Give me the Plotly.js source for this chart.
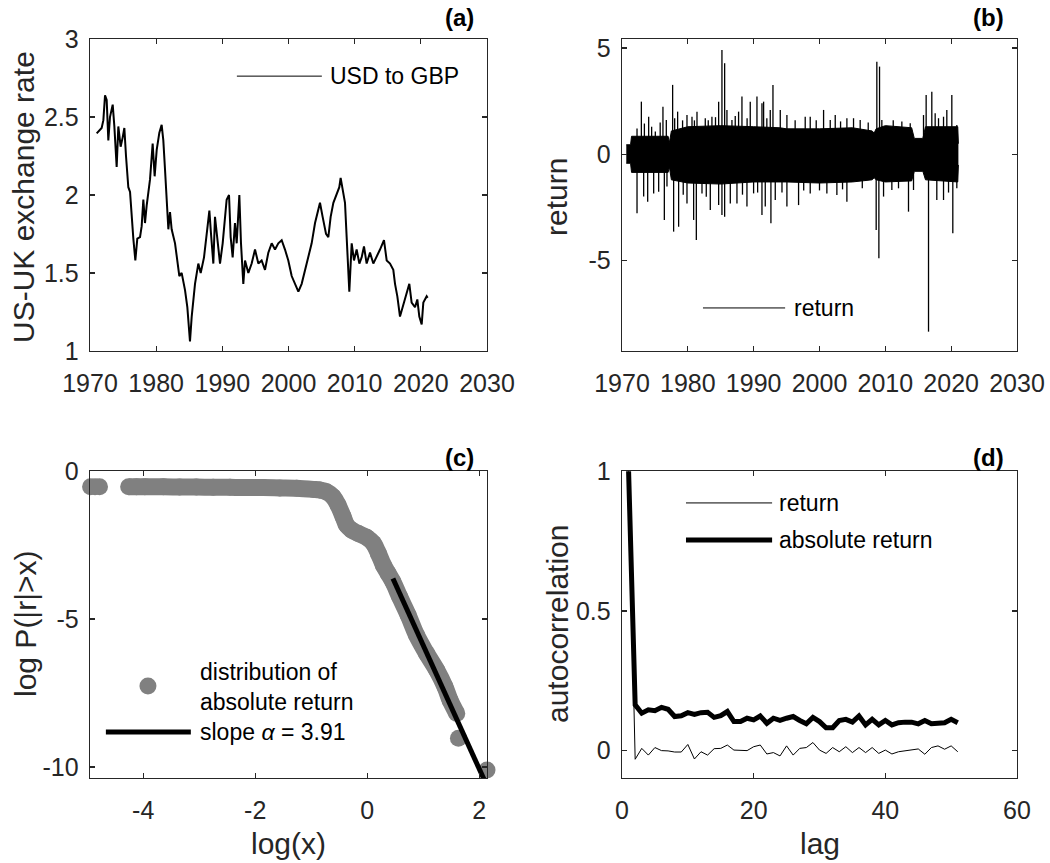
<!DOCTYPE html>
<html><head><meta charset="utf-8">
<script src="https://cdn.plot.ly/plotly-3.0.1.min.js"></script>
<style>html,body{margin:0;padding:0;background:#fff}#chart{width:1050px;height:863px}</style>
</head><body><div id="chart"></div>
<script>
// ---------- (a) USD to GBP exchange rate ----------
const rateYears = [1971.01,1971.51,1971.76,1972.02,1972.27,1972.52,1972.77,1973.02,1973.43,1973.68,1974.03,1974.28,1974.63,1974.94,1975.19,1975.44,1975.79,1976.05,1976.30,1976.55,1976.85,1977.15,1977.56,1977.81,1978.06,1978.31,1978.56,1979.07,1979.47,1979.77,1980.08,1980.48,1980.83,1981.08,1981.34,1981.59,1981.84,1982.09,1982.34,1982.85,1983.20,1983.50,1983.85,1984.36,1984.71,1985.11,1985.37,1985.87,1986.37,1986.73,1987.23,1987.63,1988.04,1988.29,1988.64,1988.89,1989.24,1989.65,1990.05,1990.40,1990.65,1991.01,1991.26,1991.56,1991.91,1992.17,1992.57,1992.82,1993.17,1993.43,1993.93,1994.43,1994.94,1995.44,1995.94,1996.45,1996.95,1997.46,1997.96,1998.46,1998.97,1999.47,1999.97,2000.48,2000.98,2001.49,2001.99,2002.49,2003.00,2003.50,2004.01,2004.36,2004.76,2005.16,2005.67,2006.02,2006.37,2006.78,2007.28,2007.68,2007.88,2008.29,2008.54,2008.79,2008.99,2009.19,2009.55,2009.90,2010.30,2010.71,2011.06,2011.41,2011.81,2012.32,2012.82,2013.32,2013.83,2014.43,2014.84,2015.34,2015.84,2016.10,2016.45,2016.85,2017.25,2017.76,2018.26,2018.61,2019.12,2019.47,2019.77,2020.13,2020.38,2020.88,2021.03];
const rateValues = [2.395,2.42,2.43,2.48,2.64,2.61,2.35,2.50,2.58,2.44,2.18,2.44,2.31,2.37,2.43,2.25,2.05,2.02,1.86,1.72,1.58,1.72,1.73,1.80,1.97,1.82,1.93,2.10,2.33,2.12,2.29,2.40,2.45,2.35,2.16,1.95,1.78,1.89,1.78,1.69,1.58,1.48,1.50,1.39,1.28,1.06,1.22,1.43,1.56,1.50,1.60,1.73,1.90,1.75,1.56,1.86,1.73,1.56,1.69,1.84,1.97,2.00,1.73,1.60,1.82,1.69,2.00,1.69,1.43,1.58,1.50,1.56,1.65,1.56,1.58,1.52,1.63,1.69,1.65,1.69,1.71,1.65,1.58,1.48,1.43,1.38,1.43,1.52,1.60,1.69,1.82,1.88,1.95,1.86,1.75,1.73,1.86,1.95,2.01,2.05,2.11,1.99,1.95,1.73,1.52,1.38,1.69,1.58,1.65,1.56,1.60,1.67,1.56,1.63,1.56,1.60,1.65,1.71,1.58,1.56,1.52,1.43,1.35,1.22,1.28,1.35,1.43,1.31,1.28,1.33,1.22,1.17,1.31,1.35,1.34];

// ---------- (b) daily return: dense band envelope + spikes ----------
const bandYears = [1970.65,1971.30,1971.45,1977.0,1977.2,1977.5,1980,1985,1990,1994,1995,2000,2005,2008.0,2008.3,2008.6,2010,2014.0,2014.4,2015.7,2016.1,2021.0,2021.1];
const bandUpper = [0.45,0.45,0.85,0.85,0.55,1.1,1.3,1.35,1.3,1.25,1.2,1.2,1.25,1.1,1.0,1.2,1.35,1.25,0.75,0.75,1.3,1.3,0.5];
const bandLower = [-0.42,-0.42,-0.85,-0.85,-0.6,-1.2,-1.35,-1.4,-1.3,-1.3,-1.3,-1.35,-1.3,-1.2,-1.1,-1.2,-1.3,-1.25,-0.8,-0.8,-1.2,-1.3,-0.5];
const spikeUpYears = [1972.28,1972.94,1973.4,1974.05,1974.5,1975.06,1975.8,1976.22,1976.73,1977.69,1978.0,1978.45,1979.2,1979.87,1980.63,1981.0,1981.39,1982.65,1983.1,1983.66,1984.2,1984.68,1985.18,1985.59,1985.94,1986.70,1987.2,1987.71,1988.22,1989.0,1989.48,1990.50,1991.26,1991.51,1992.0,1992.52,1992.93,1994.04,1995.05,1996.3,1997.83,1998.59,1999.5,2000.62,2001.63,2002.39,2003.2,2004.16,2005.17,2006.18,2007.4,2008.71,2009.12,2009.47,2011.2,2012.51,2013.78,2015.80,2016.20,2017.06,2017.57,2018.08,2018.84,2019.34,2020.10,2020.86];
const spikeUpValues = [1.22,2.48,1.45,1.77,1.3,1.07,1.5,2.24,1.62,3.27,1.7,2.01,1.6,1.85,1.77,1.6,2.01,1.70,1.6,1.77,1.75,2.48,4.91,4.29,2.09,1.62,1.8,2.01,2.72,1.7,2.48,2.72,2.40,2.48,1.7,2.09,3.27,2.09,1.85,1.6,1.77,1.77,1.6,2.09,1.62,1.85,1.55,1.70,1.70,1.62,1.5,4.36,4.13,1.62,1.6,1.54,1.46,1.85,2.79,2.95,1.93,1.70,1.77,2.09,2.79,1.38];
const spikeDownYears = [1972.28,1973.29,1973.90,1974.81,1975.57,1976.43,1976.83,1977.84,1978.60,1979.3,1979.87,1980.88,1981.29,1982.15,1982.8,1983.41,1984.68,1985.18,1985.59,1986.45,1987.46,1988.3,1988.98,1989.99,1990.6,1991.26,1991.76,1992.62,1993.28,1994.3,1995.05,1996.82,1997.6,1998.59,2000.0,2001.12,2002.64,2003.5,2004.16,2006.5,2008.61,2009.02,2009.73,2010.99,2012.0,2013.52,2014.28,2016.56,2017.82,2018.84,2019.6,2020.25,2020.86];
const spikeDownValues = [-2.78,-1.99,-2.23,-1.84,-1.76,-3.09,-1.52,-3.64,-3.41,-1.9,-2.31,-3.09,-4.03,-1.84,-2.0,-2.62,-2.39,-2.86,-2.94,-2.31,-2.31,-1.9,-2.46,-1.84,-1.8,-2.86,-2.46,-3.25,-2.15,-1.8,-2.46,-2.39,-1.7,-1.84,-1.7,-1.84,-1.92,-1.65,-2.23,-1.6,-3.56,-4.89,-1.99,-1.68,-1.6,-2.70,-1.68,-8.35,-2.15,-2.15,-1.8,-3.72,-1.60];

// ---------- (c) tail distribution ----------
const tailLogX = [-4.26,-4.12,-3.97,-3.64,-3.35,-3.05,-2.75,-2.45,-2.15,-1.86,-1.56,-1.26,-0.96,-0.85,-0.73,-0.61,-0.52,-0.43,-0.37,-0.28,-0.16,-0.01,0.11,0.20,0.29,0.375,0.46,0.58,0.73,0.88,1.06,1.24,1.39,1.48,1.60];
const tailLogP = [-0.53,-0.53,-0.53,-0.53,-0.54,-0.54,-0.55,-0.55,-0.56,-0.56,-0.57,-0.58,-0.62,-0.64,-0.70,-0.87,-1.15,-1.54,-1.82,-1.99,-2.11,-2.24,-2.44,-2.78,-3.18,-3.46,-3.74,-4.25,-4.86,-5.54,-6.16,-6.72,-7.29,-7.74,-8.19];
const isolatedLogX = [-4.94,-4.86,-4.78,1.63,2.14];
const isolatedLogP = [-0.53,-0.53,-0.53,-9.03,-10.1];
const fitLogX = [0.46,2.14];
const fitLogP = [-3.63,-10.64];

// ---------- (d) autocorrelation ----------
const lags = [1,2,3,4,5,6,7,8,9,10,11,12,13,14,15,16,17,18,19,20,21,22,23,24,25,26,27,28,29,30,31,32,33,34,35,36,37,38,39,40,41,42,43,44,45,46,47,48,49,50,51];
const acfReturn = [1,-0.031,0.008,-0.016,0.011,0.000,-0.001,-0.005,-0.005,0.022,-0.030,-0.004,-0.016,0.007,0.008,0.020,0.002,0.000,0.000,0.014,0.020,-0.012,-0.007,-0.019,0.017,-0.016,0.008,0.011,0.029,0.002,-0.010,0.011,-0.004,0.014,-0.007,0.011,-0.007,0.011,-0.010,0.002,-0.012,-0.004,-0.001,0.002,0.006,-0.013,0.011,0.017,0.005,0.017,-0.004];
const acfAbsReturn = [1,0.164,0.134,0.146,0.143,0.155,0.148,0.122,0.125,0.136,0.130,0.136,0.137,0.119,0.125,0.140,0.104,0.104,0.116,0.110,0.124,0.098,0.116,0.108,0.116,0.122,0.108,0.096,0.119,0.104,0.082,0.082,0.108,0.112,0.102,0.124,0.092,0.112,0.092,0.108,0.092,0.100,0.102,0.102,0.096,0.108,0.096,0.096,0.100,0.112,0.100];

// ---------- tick labels ----------
const yearTicks = [1970,1980,1990,2000,2010,2020,2030];
const rateTicks = [1,1.5,2,2.5,3];
const returnTicks = [-5,0,5];
const returnTickText = ['-5','0','5'];
const logXTicks = [-4,-2,0,2];
const logXTickText = ['-4','-2','0','2'];
const logPTicks = [-10,-5,0];
const logPTickText = ['-10','-5','0'];
const lagTicks = [0,20,40,60];
const acTicks = [0,0.5,1];
const acTickText = ['0','0.5','1'];

// ---------- build ----------
const FONT = 'Liberation Sans, Arial, Helvetica, sans-serif';
const INK = '#262626';
const GREY = '#808080';

function spikes(xs, vs){
  const x = [], y = [];
  xs.forEach((t,i)=>{ x.push(t,t,null); y.push(0,vs[i],null); });
  return {x, y};
}
const up = spikes(spikeUpYears, spikeUpValues);
const dn = spikes(spikeDownYears, spikeDownValues);

const traces = [
  {x: rateYears, y: rateValues, type:'scatter', mode:'lines', line:{color:'#000', width:2}, xaxis:'x', yaxis:'y', hoverinfo:'skip'},
  {x: bandYears, y: bandLower, type:'scatter', mode:'lines', line:{color:'#000', width:1}, xaxis:'x2', yaxis:'y2', hoverinfo:'skip'},
  {x: bandYears, y: bandUpper, type:'scatter', mode:'lines', fill:'tonexty', fillcolor:'#000', line:{color:'#000', width:1}, xaxis:'x2', yaxis:'y2', hoverinfo:'skip'},
  {x: up.x, y: up.y, type:'scatter', mode:'lines', line:{color:'#000', width:1.3}, xaxis:'x2', yaxis:'y2', hoverinfo:'skip'},
  {x: dn.x, y: dn.y, type:'scatter', mode:'lines', line:{color:'#000', width:1.3}, xaxis:'x2', yaxis:'y2', hoverinfo:'skip'},
  {x: tailLogX, y: tailLogP, type:'scatter', mode:'lines+markers', line:{color:GREY, width:17, shape:'spline'}, marker:{color:GREY, size:17}, cliponaxis:false, xaxis:'x3', yaxis:'y3', hoverinfo:'skip'},
  {x: isolatedLogX, y: isolatedLogP, type:'scatter', mode:'markers', marker:{color:GREY, size:17}, cliponaxis:false, xaxis:'x3', yaxis:'y3', hoverinfo:'skip'},
  {x: fitLogX, y: fitLogP, type:'scatter', mode:'lines', line:{color:'#000', width:5}, xaxis:'x3', yaxis:'y3', hoverinfo:'skip'},
  {x: lags, y: acfReturn, type:'scatter', mode:'lines', line:{color:'#000', width:1}, xaxis:'x4', yaxis:'y4', hoverinfo:'skip'},
  {x: lags, y: acfAbsReturn, type:'scatter', mode:'lines', line:{color:'#000', width:5}, xaxis:'x4', yaxis:'y4', hoverinfo:'skip'}
];

function axis(extra){
  return Object.assign({
    showline:true, linecolor:INK, linewidth:1.3, mirror:'ticks',
    ticks:'inside', ticklen:5, tickwidth:1.3, tickcolor:INK,
    showgrid:false, zeroline:false, fixedrange:true,
    tickfont:{family:FONT, size:25, color:INK}, tickmode:'array'
  }, extra);
}
const XL = [90/1050, 487/1050], XR = [622/1050, 1017/1050];
const YT = [1-351/863, 1-39/863], YB = [1-778/863, 1-471/863];
const XSTAND = 10, YSTAND = 5;

const ann = [];
function label(text, xref, yref, shift){
  ann.push({text:'<b>'+text+'</b>', xref:xref, yref:yref, x:0.972, y:1, xanchor:'right', yanchor:'bottom', yshift:shift, showarrow:false, font:{family:FONT, size:24, color:'#000'}});
}
label('(a)','x domain','y domain', 6);
label('(b)','x2 domain','y2 domain', 6);
label('(c)','x3 domain','y3 domain', -2);
label('(d)','x4 domain','y4 domain', -2);

function title(text, x, y, rot){
  ann.push({text:text, xref:'paper', yref:'paper', x:x, y:y, xanchor:'center', yanchor:'middle', textangle:rot, showarrow:false, font:{family:FONT, size:30, color:INK}});
}
title('US-UK exchange rate', 23/1050, 1-197/863, -90);
title('return', 556/1050, 1-197/863, -90);
title('log P(|r|>x)', 25/1050, 1-624/863, -90);
title('autocorrelation', 557/1050, 1-624/863, -90);
title('log(x)', 288.5/1050, 1-843/863, 0);
title('lag', 819.5/1050, 1-843/863, 0);

function legText(text, xref, yref, x, y){
  ann.push({text:text, xref:xref, yref:yref, x:x, y:y, xanchor:'left', yanchor:'middle', showarrow:false, font:{family:FONT, size:23, color:'#000'}});
}
const shapes = [];
function legLine(xref, yref, x0, x1, y, w){
  shapes.push({type:'line', xref:xref, yref:yref, x0:x0, x1:x1, y0:y, y1:y, line:{color:'#000', width:w}});
}
legLine('x domain','y domain', 0.370, 0.584, 0.881, 1);
legText('USD to GBP','x domain','y domain', 0.600, 0.881);
legLine('x2 domain','y2 domain', 0.205, 0.413, 0.138, 1);
legText('return','x2 domain','y2 domain', 0.430, 0.138);
shapes.push({type:'circle', xref:'x3 domain', yref:'y3 domain', xsizemode:'pixel', ysizemode:'pixel', xanchor:0.146, yanchor:0.300, x0:-8.5, x1:8.5, y0:-8.5, y1:8.5, fillcolor:GREY, line:{width:0}});
legText('distribution of','x3 domain','y3 domain', 0.272, 0.345);
legText('absolute return','x3 domain','y3 domain', 0.272, 0.248);
legLine('x3 domain','y3 domain', 0.040, 0.254, 0.150, 5);
legText('slope <i>α</i> = 3.91','x3 domain','y3 domain', 0.272, 0.150);
legLine('x4 domain','y4 domain', 0.162, 0.380, 0.896, 1);
legText('return','x4 domain','y4 domain', 0.392, 0.896);
legLine('x4 domain','y4 domain', 0.162, 0.380, 0.775, 5);
legText('absolute return','x4 domain','y4 domain', 0.392, 0.775);

const layout = {
  width:1050, height:863, margin:{l:0,r:0,t:0,b:0},
  paper_bgcolor:'#fff', plot_bgcolor:'#fff', showlegend:false,
  font:{family:FONT, color:INK},
  xaxis: axis({domain:XL, anchor:'y', range:[1969.999,2030.001], tickvals:yearTicks, ticklabelstandoff:XSTAND}),
  yaxis: axis({domain:YT, anchor:'x', range:[0.999,3.001], tickvals:rateTicks, ticklabelstandoff:YSTAND}),
  xaxis2: axis({domain:XR, anchor:'y2', range:[1969.999,2030.001], tickvals:yearTicks, ticklabelstandoff:XSTAND}),
  yaxis2: axis({domain:YT, anchor:'x2', range:[-9.26,5.43], tickvals:returnTicks, ticktext:returnTickText, ticklabelstandoff:YSTAND}),
  xaxis3: axis({domain:XL, anchor:'y3', range:[-4.95,2.14], tickvals:logXTicks, ticktext:logXTickText, ticklabelstandoff:XSTAND}),
  yaxis3: axis({domain:YB, anchor:'x3', range:[-10.37,0.001], tickvals:logPTicks, ticktext:logPTickText, ticklabelstandoff:YSTAND}),
  xaxis4: axis({domain:XR, anchor:'y4', range:[-0.001,60.001], tickvals:lagTicks, ticklabelstandoff:XSTAND}),
  yaxis4: axis({domain:YB, anchor:'x4', range:[-0.098,1.001], tickvals:acTicks, ticktext:acTickText, ticklabelstandoff:YSTAND}),
  annotations: ann, shapes: shapes
};
Plotly.newPlot('chart', traces, layout, {displayModeBar:false, staticPlot:true});
</script></body></html>
